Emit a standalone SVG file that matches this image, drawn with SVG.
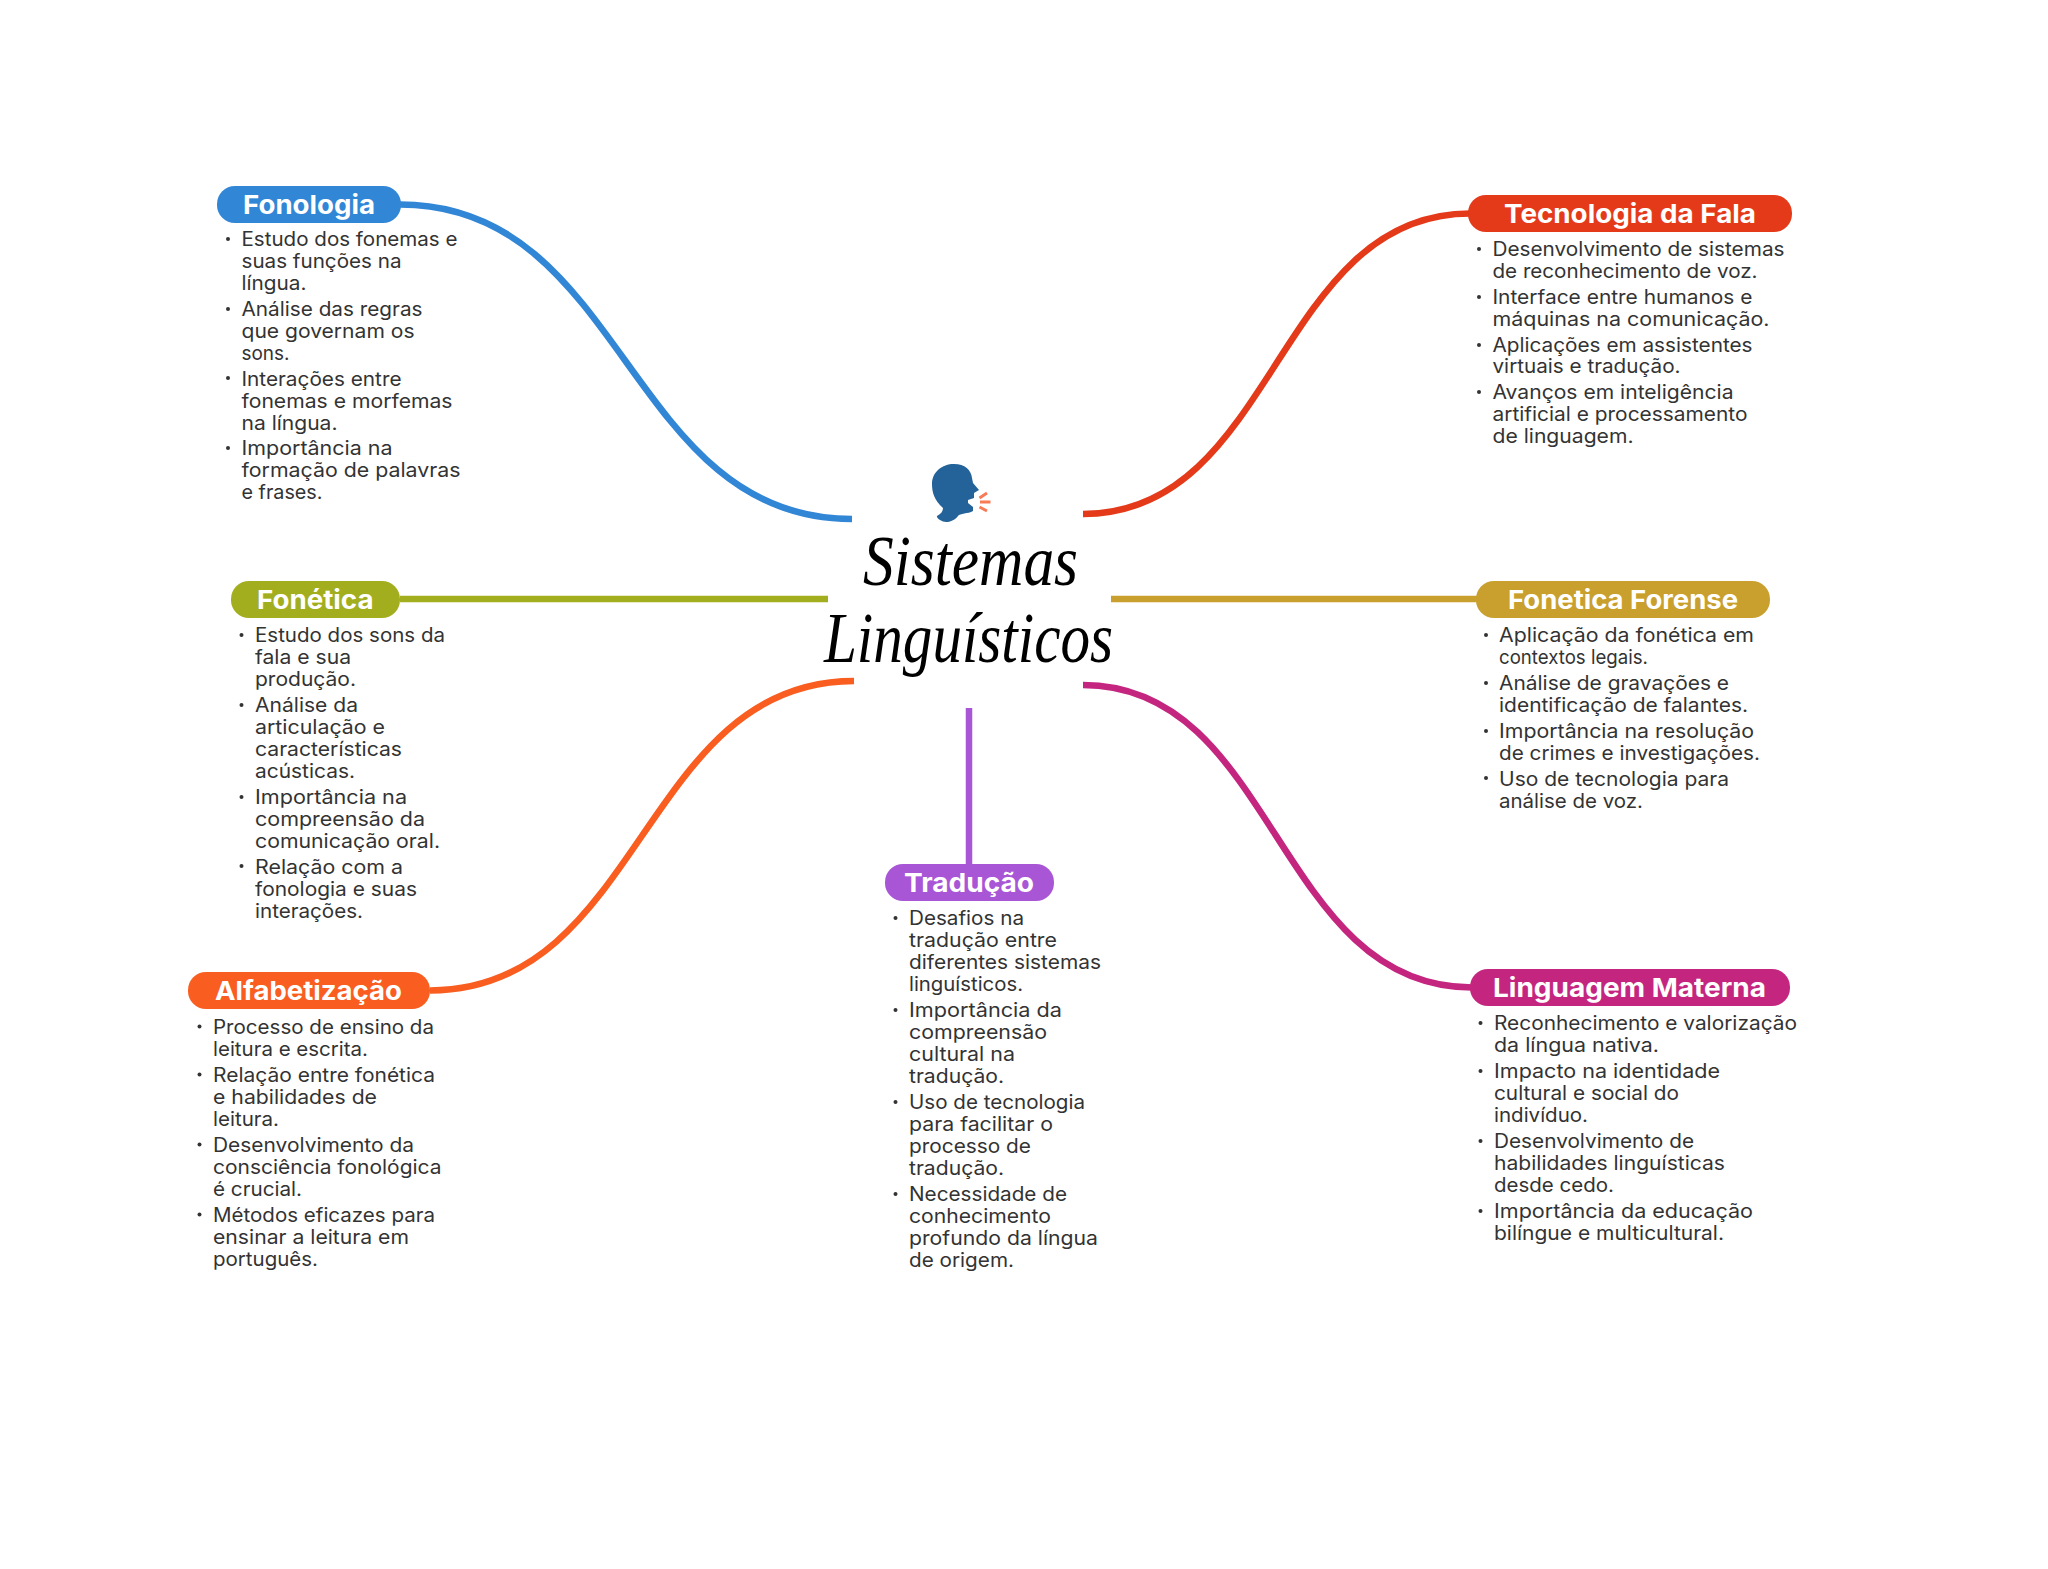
<svg xmlns="http://www.w3.org/2000/svg" width="2048" height="1569" viewBox="0 0 2048 1569">
<style>
.bg{fill:#fff}
.c{fill:none;stroke-width:6.5}
.p{stroke:none}
.h{font:700 26px Inter,"Liberation Sans",sans-serif;fill:#fff}
.t{font:400 19.5px Inter,"Liberation Sans",sans-serif;fill:#333}
.b{fill:#333}
.title{font:italic 400 72px "Liberation Serif",serif;fill:#000}
</style>
<rect class="bg" width="2048" height="1569"/>
<g id="connectors">
<path class="c" stroke="#3186D6" d="M400 204.500C626 204.500 626 519 852 519"/>
<path class="c" stroke="#E43A19" d="M1083 514C1276 514 1276 213.500 1470 213.500"/>
<path class="c" stroke="#A3AE1F" d="M400 599H828"/>
<path class="c" stroke="#C9A02E" d="M1111 599H1478"/>
<path class="c" stroke="#F95D1F" d="M430 990.500C642 990.500 642 681 854 681"/>
<path class="c" stroke="#C4267F" d="M1083 685C1276 685 1276 987.500 1472 987.500"/>
<path class="c" stroke="#A855D6" d="M969 708V866"/>
</g>
<g id="center">
<path fill="#236399" d="M943 508C934 500 932 492 932 484C932 472 942 464 954 464C965 464 971 470 972 478L973 483L979 490L974 493L974 498L968 500L968 503L973 507L973 511C968 514 960 513 958 516C955 520 950 522 946 522C942 522 936 518 937 516C941 514 943 511 943 508Z"/>
<path fill="none" stroke="#F97B56" stroke-width="3" d="M979.500 498L987 493M980 502H990.500M979.500 507L987 511"/>
<text class="title" x="863" y="585" textLength="215" lengthAdjust="spacingAndGlyphs">Sistemas</text>
<text class="title" x="824" y="662" textLength="289" lengthAdjust="spacingAndGlyphs">Linguísticos</text>
</g>
<g id="fonologia">
<rect class="p" fill="#3186D6" x="217" y="186" width="184" height="37" rx="18"/>
<text class="h" x="243" y="213.500" textLength="132" lengthAdjust="spacingAndGlyphs">Fonologia</text>
<circle class="b" cx="228" cy="239" r="2"/><circle class="b" cx="228" cy="309" r="2"/><circle class="b" cx="228" cy="378" r="2"/><circle class="b" cx="228" cy="448" r="2"/>
<text class="t" x="241.500" y="246" textLength="216" lengthAdjust="spacingAndGlyphs">Estudo dos fonemas e</text>
<text class="t" x="241.500" y="268" textLength="160" lengthAdjust="spacingAndGlyphs">suas funções na</text>
<text class="t" x="241.500" y="290" textLength="65" lengthAdjust="spacingAndGlyphs">língua.</text>
<text class="t" x="241.500" y="316" textLength="181" lengthAdjust="spacingAndGlyphs">Análise das regras</text>
<text class="t" x="241.500" y="338" textLength="173" lengthAdjust="spacingAndGlyphs">que governam os</text>
<text class="t" x="241.500" y="360" textLength="48" lengthAdjust="spacingAndGlyphs">sons.</text>
<text class="t" x="241.500" y="385.500" textLength="160" lengthAdjust="spacingAndGlyphs">Interações entre</text>
<text class="t" x="241.500" y="407.500" textLength="211" lengthAdjust="spacingAndGlyphs">fonemas e morfemas</text>
<text class="t" x="241.500" y="429.500" textLength="96" lengthAdjust="spacingAndGlyphs">na língua.</text>
<text class="t" x="241.500" y="455" textLength="151" lengthAdjust="spacingAndGlyphs">Importância na</text>
<text class="t" x="241.500" y="477" textLength="219" lengthAdjust="spacingAndGlyphs">formação de palavras</text>
<text class="t" x="241.500" y="499" textLength="81" lengthAdjust="spacingAndGlyphs">e frases.</text>
</g>
<g id="tecnologia-da-fala">
<rect class="p" fill="#E43A19" x="1468" y="195" width="324" height="37" rx="18"/>
<text class="h" x="1504" y="222.700" textLength="252" lengthAdjust="spacingAndGlyphs">Tecnologia da Fala</text>
<circle class="b" cx="1479" cy="249" r="2"/><circle class="b" cx="1479" cy="297" r="2"/><circle class="b" cx="1479" cy="345" r="2"/><circle class="b" cx="1479" cy="392" r="2"/>
<text class="t" x="1492.500" y="256" textLength="292" lengthAdjust="spacingAndGlyphs">Desenvolvimento de sistemas</text>
<text class="t" x="1492.500" y="277.500" textLength="265" lengthAdjust="spacingAndGlyphs">de reconhecimento de voz.</text>
<text class="t" x="1492.500" y="304" textLength="260" lengthAdjust="spacingAndGlyphs">Interface entre humanos e</text>
<text class="t" x="1492.500" y="325.700" textLength="277" lengthAdjust="spacingAndGlyphs">máquinas na comunicação.</text>
<text class="t" x="1492.500" y="351.700" textLength="260" lengthAdjust="spacingAndGlyphs">Aplicações em assistentes</text>
<text class="t" x="1492.500" y="373" textLength="188" lengthAdjust="spacingAndGlyphs">virtuais e tradução.</text>
<text class="t" x="1492.500" y="399" textLength="241" lengthAdjust="spacingAndGlyphs">Avanços em inteligência</text>
<text class="t" x="1492.500" y="421" textLength="255" lengthAdjust="spacingAndGlyphs">artificial e processamento</text>
<text class="t" x="1492.500" y="443" textLength="141" lengthAdjust="spacingAndGlyphs">de linguagem.</text>
</g>
<g id="fonetica">
<rect class="p" fill="#A3AE1F" x="231" y="581" width="169" height="37" rx="18"/>
<text class="h" x="257" y="608.500" textLength="116.500" lengthAdjust="spacingAndGlyphs">Fonética</text>
<circle class="b" cx="241.500" cy="635" r="2"/><circle class="b" cx="241.500" cy="705" r="2"/><circle class="b" cx="241.500" cy="797" r="2"/><circle class="b" cx="241.500" cy="866" r="2"/>
<text class="t" x="255" y="642" textLength="190" lengthAdjust="spacingAndGlyphs">Estudo dos sons da</text>
<text class="t" x="255" y="664" textLength="96" lengthAdjust="spacingAndGlyphs">fala e sua</text>
<text class="t" x="255" y="686" textLength="101" lengthAdjust="spacingAndGlyphs">produção.</text>
<text class="t" x="255" y="712" textLength="103" lengthAdjust="spacingAndGlyphs">Análise da</text>
<text class="t" x="255" y="734" textLength="130" lengthAdjust="spacingAndGlyphs">articulação e</text>
<text class="t" x="255" y="756" textLength="147" lengthAdjust="spacingAndGlyphs">características</text>
<text class="t" x="255" y="778" textLength="100" lengthAdjust="spacingAndGlyphs">acústicas.</text>
<text class="t" x="255" y="804" textLength="152" lengthAdjust="spacingAndGlyphs">Importância na</text>
<text class="t" x="255" y="826" textLength="170" lengthAdjust="spacingAndGlyphs">compreensão da</text>
<text class="t" x="255" y="848" textLength="185" lengthAdjust="spacingAndGlyphs">comunicação oral.</text>
<text class="t" x="255" y="873.500" textLength="148" lengthAdjust="spacingAndGlyphs">Relação com a</text>
<text class="t" x="255" y="895.500" textLength="162" lengthAdjust="spacingAndGlyphs">fonologia e suas</text>
<text class="t" x="255" y="917.500" textLength="108" lengthAdjust="spacingAndGlyphs">interações.</text>
</g>
<g id="fonetica-forense">
<rect class="p" fill="#C9A02E" x="1476" y="581" width="294" height="37" rx="18"/>
<text class="h" x="1508" y="608.500" textLength="230" lengthAdjust="spacingAndGlyphs">Fonetica Forense</text>
<circle class="b" cx="1486" cy="635" r="2"/><circle class="b" cx="1486" cy="683" r="2"/><circle class="b" cx="1486" cy="731" r="2"/><circle class="b" cx="1486" cy="778" r="2"/>
<text class="t" x="1499" y="642" textLength="255" lengthAdjust="spacingAndGlyphs">Aplicação da fonética em</text>
<text class="t" x="1499" y="664" textLength="149" lengthAdjust="spacingAndGlyphs">contextos legais.</text>
<text class="t" x="1499" y="690" textLength="230" lengthAdjust="spacingAndGlyphs">Análise de gravações e</text>
<text class="t" x="1499" y="712" textLength="249" lengthAdjust="spacingAndGlyphs">identificação de falantes.</text>
<text class="t" x="1499" y="738" textLength="255" lengthAdjust="spacingAndGlyphs">Importância na resolução</text>
<text class="t" x="1499" y="760" textLength="261" lengthAdjust="spacingAndGlyphs">de crimes e investigações.</text>
<text class="t" x="1499" y="785.500" textLength="230" lengthAdjust="spacingAndGlyphs">Uso de tecnologia para</text>
<text class="t" x="1499" y="807.500" textLength="144" lengthAdjust="spacingAndGlyphs">análise de voz.</text>
</g>
<g id="alfabetizacao">
<rect class="p" fill="#F95D1F" x="188" y="972" width="242" height="37" rx="18"/>
<text class="h" x="215" y="999.500" textLength="187" lengthAdjust="spacingAndGlyphs">Alfabetização</text>
<circle class="b" cx="199.500" cy="1026.500" r="2"/><circle class="b" cx="199.500" cy="1074.500" r="2"/><circle class="b" cx="199.500" cy="1144.500" r="2"/><circle class="b" cx="199.500" cy="1214.500" r="2"/>
<text class="t" x="213" y="1033.500" textLength="221" lengthAdjust="spacingAndGlyphs">Processo de ensino da</text>
<text class="t" x="213" y="1055.500" textLength="155" lengthAdjust="spacingAndGlyphs">leitura e escrita.</text>
<text class="t" x="213" y="1081.500" textLength="222" lengthAdjust="spacingAndGlyphs">Relação entre fonética</text>
<text class="t" x="213" y="1103.500" textLength="164" lengthAdjust="spacingAndGlyphs">e habilidades de</text>
<text class="t" x="213" y="1125.500" textLength="66" lengthAdjust="spacingAndGlyphs">leitura.</text>
<text class="t" x="213" y="1151.500" textLength="201" lengthAdjust="spacingAndGlyphs">Desenvolvimento da</text>
<text class="t" x="213" y="1173.500" textLength="228.500" lengthAdjust="spacingAndGlyphs">consciência fonológica</text>
<text class="t" x="213" y="1195.500" textLength="89" lengthAdjust="spacingAndGlyphs">é crucial.</text>
<text class="t" x="213" y="1221.500" textLength="222" lengthAdjust="spacingAndGlyphs">Métodos eficazes para</text>
<text class="t" x="213" y="1243.500" textLength="196" lengthAdjust="spacingAndGlyphs">ensinar a leitura em</text>
<text class="t" x="213" y="1265.500" textLength="105" lengthAdjust="spacingAndGlyphs">português.</text>
</g>
<g id="traducao">
<rect class="p" fill="#A855D6" x="885" y="864" width="169" height="37" rx="18"/>
<text class="h" x="904" y="891.500" textLength="130" lengthAdjust="spacingAndGlyphs">Tradução</text>
<circle class="b" cx="895.500" cy="918" r="2"/><circle class="b" cx="895.500" cy="1010" r="2"/><circle class="b" cx="895.500" cy="1102" r="2"/><circle class="b" cx="895.500" cy="1194" r="2"/>
<text class="t" x="909" y="925" textLength="115" lengthAdjust="spacingAndGlyphs">Desafios na</text>
<text class="t" x="909" y="947" textLength="148" lengthAdjust="spacingAndGlyphs">tradução entre</text>
<text class="t" x="909" y="969" textLength="192" lengthAdjust="spacingAndGlyphs">diferentes sistemas</text>
<text class="t" x="909" y="991" textLength="114" lengthAdjust="spacingAndGlyphs">linguísticos.</text>
<text class="t" x="909" y="1017" textLength="153" lengthAdjust="spacingAndGlyphs">Importância da</text>
<text class="t" x="909" y="1039" textLength="138" lengthAdjust="spacingAndGlyphs">compreensão</text>
<text class="t" x="909" y="1061" textLength="106" lengthAdjust="spacingAndGlyphs">cultural na</text>
<text class="t" x="909" y="1083" textLength="95" lengthAdjust="spacingAndGlyphs">tradução.</text>
<text class="t" x="909" y="1109" textLength="176" lengthAdjust="spacingAndGlyphs">Uso de tecnologia</text>
<text class="t" x="909" y="1131" textLength="144" lengthAdjust="spacingAndGlyphs">para facilitar o</text>
<text class="t" x="909" y="1153" textLength="122" lengthAdjust="spacingAndGlyphs">processo de</text>
<text class="t" x="909" y="1175" textLength="95" lengthAdjust="spacingAndGlyphs">tradução.</text>
<text class="t" x="909" y="1201" textLength="158" lengthAdjust="spacingAndGlyphs">Necessidade de</text>
<text class="t" x="909" y="1223" textLength="142" lengthAdjust="spacingAndGlyphs">conhecimento</text>
<text class="t" x="909" y="1245" textLength="189" lengthAdjust="spacingAndGlyphs">profundo da língua</text>
<text class="t" x="909" y="1267" textLength="105" lengthAdjust="spacingAndGlyphs">de origem.</text>
</g>
<g id="linguagem-materna">
<rect class="p" fill="#C4267F" x="1470" y="969" width="320" height="37" rx="18"/>
<text class="h" x="1493" y="996.500" textLength="273" lengthAdjust="spacingAndGlyphs">Linguagem Materna</text>
<circle class="b" cx="1480.500" cy="1023" r="2"/><circle class="b" cx="1480.500" cy="1071" r="2"/><circle class="b" cx="1480.500" cy="1141" r="2"/><circle class="b" cx="1480.500" cy="1211" r="2"/>
<text class="t" x="1494" y="1030" textLength="303" lengthAdjust="spacingAndGlyphs">Reconhecimento e valorização</text>
<text class="t" x="1494" y="1052" textLength="165" lengthAdjust="spacingAndGlyphs">da língua nativa.</text>
<text class="t" x="1494" y="1078" textLength="226" lengthAdjust="spacingAndGlyphs">Impacto na identidade</text>
<text class="t" x="1494" y="1100" textLength="185" lengthAdjust="spacingAndGlyphs">cultural e social do</text>
<text class="t" x="1494" y="1122" textLength="94" lengthAdjust="spacingAndGlyphs">indivíduo.</text>
<text class="t" x="1494" y="1148" textLength="200" lengthAdjust="spacingAndGlyphs">Desenvolvimento de</text>
<text class="t" x="1494" y="1170" textLength="231" lengthAdjust="spacingAndGlyphs">habilidades linguísticas</text>
<text class="t" x="1494" y="1192" textLength="120" lengthAdjust="spacingAndGlyphs">desde cedo.</text>
<text class="t" x="1494" y="1218" textLength="259" lengthAdjust="spacingAndGlyphs">Importância da educação</text>
<text class="t" x="1494" y="1240" textLength="230" lengthAdjust="spacingAndGlyphs">bilíngue e multicultural.</text>
</g>
</svg>
